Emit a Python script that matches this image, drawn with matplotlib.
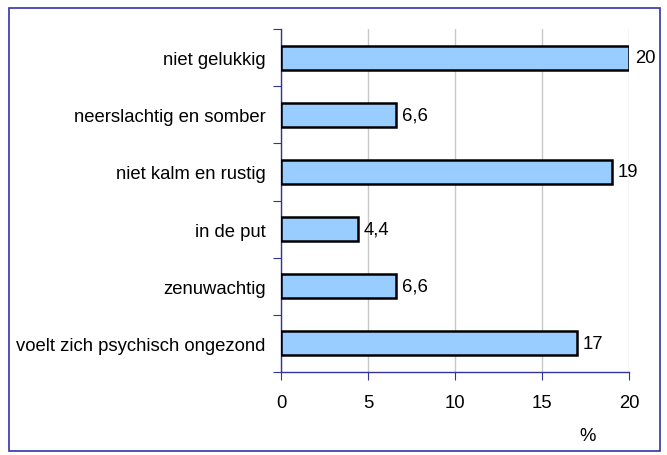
import matplotlib
matplotlib.use("Agg")
import matplotlib.pyplot as plt
from matplotlib.patches import Rectangle

categories = ["niet gelukkig", "neerslachtig en somber", "niet kalm en rustig",
              "in de put", "zenuwachtig", "voelt zich psychisch ongezond"]
values = [20, 6.6, 19, 4.4, 6.6, 17]
xticks = [0, 5, 10, 15, 20]

plt.rcParams['font.family'] = ['Liberation Sans', 'DejaVu Sans']
FS = 13.3

fig = plt.figure(figsize=(6.67, 4.56), dpi=100)
ax = fig.add_axes([281/667, 1-373/456, (629-281)/667, (373-30)/456])

n = len(categories)
ypos = list(range(n))
ax.barh(ypos, values, height=0.42, color='#99CCFF', edgecolor='black', linewidth=1.8, zorder=3)
ax.set_ylim(n-0.5, -0.5)
ax.set_xlim(0, 20)

for y, v in zip(ypos, values):
    lab = (f"{v:g}").replace('.', ',')
    ax.text(v + 0.35, y, lab, va='center', ha='left', fontsize=FS)

ax.set_xticks(xticks)
ax.set_xticklabels([str(t) for t in xticks], fontsize=FS)
ax.xaxis.grid(True, color='#C8C8C8', linewidth=1, zorder=0)
ax.set_axisbelow(True)

# y ticks at category boundaries, labels centred
ax.set_yticks([i - 0.5 for i in range(n + 1)])
ax.set_yticklabels([])
ax.set_yticks(ypos, minor=True)
ax.set_yticklabels(categories, minor=True, fontsize=FS)
ax.tick_params(axis='y', which='minor', length=0, pad=11)
ax.tick_params(axis='y', which='major', length=6, color='#333399', direction='out')
ax.tick_params(axis='x', length=6, color='#333399', direction='out', pad=10)

for s in ['top', 'right']:
    ax.spines[s].set_visible(False)
for s in ['left', 'bottom']:
    ax.spines[s].set_color('#333399')
    ax.spines[s].set_linewidth(1)

fig.text(588/667, 1-437/456, '%', ha='center', va='center', fontsize=FS)

fig.patches.append(Rectangle((9/667, 1-452/456), (660-9)/667, (452-9)/456,
                             transform=fig.transFigure, fill=False,
                             edgecolor='#3333AA', linewidth=1.2))

fig.savefig('out.png', dpi=100)
